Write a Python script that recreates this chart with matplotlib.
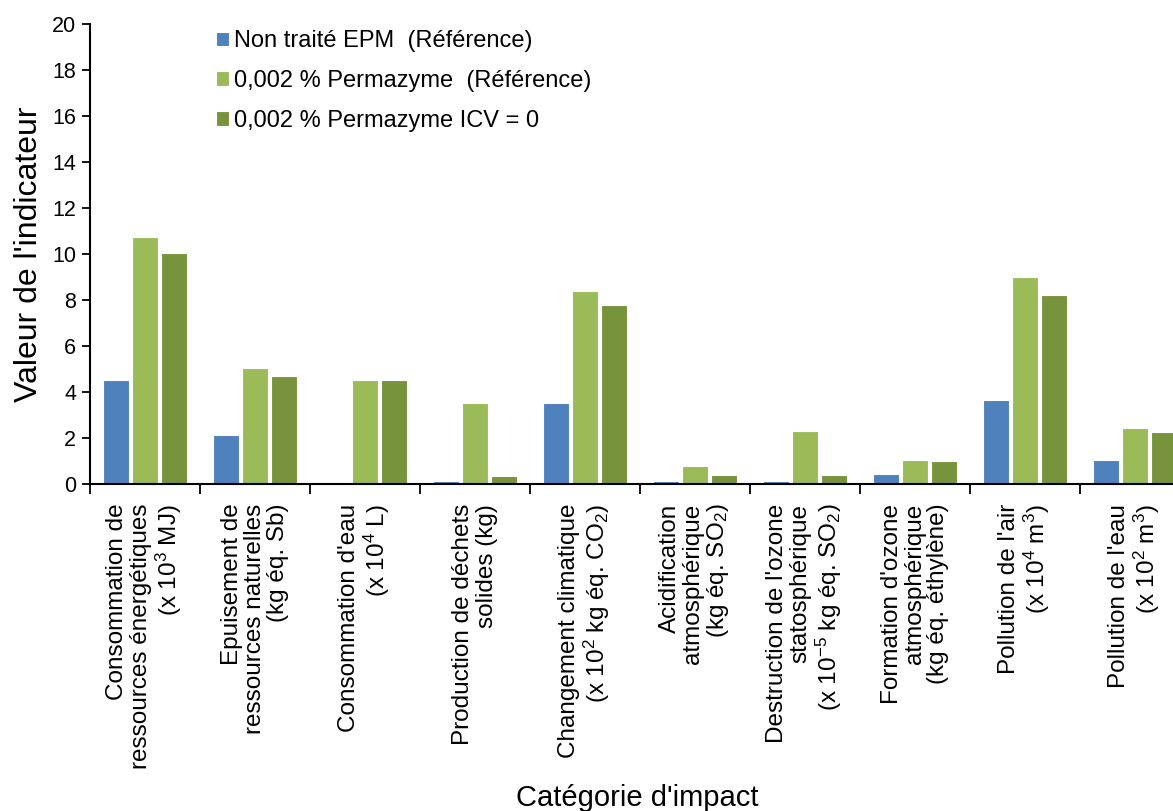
import numpy as np
import matplotlib
matplotlib.use("Agg")
import matplotlib.pyplot as plt

plt.rcParams['font.family'] = ['Liberation Sans', 'DejaVu Sans']
plt.rcParams['mathtext.fontset'] = 'custom'
plt.rcParams['mathtext.rm'] = 'Liberation Sans'
plt.rcParams['mathtext.it'] = 'Liberation Sans:italic'

categories = [
    "Consommation de\nressources énergétiques\n(x 10$^3$ MJ)",
    "Epuisement de\nressources naturelles\n(kg éq. Sb)",
    "Consommation d'eau\n(x 10$^4$ L)",
    "Production de déchets\nsolides (kg)",
    "Changement climatique\n(x 10$^2$ kg éq. CO$_2$)",
    "Acidification\natmosphérique\n(kg éq. SO$_2$)",
    "Destruction de l'ozone\nstatosphérique\n(x 10$^{-5}$ kg éq. SO$_2$)",
    "Formation d'ozone\natmosphérique\n(kg éq. éthylène)",
    "Pollution de l'air\n(x 10$^4$ m$^3$)",
    "Pollution de l'eau\n(x 10$^2$ m$^3$)",
]
series_names = [
    "Non traité EPM  (Référence)",
    "0,002 % Permazyme  (Référence)",
    "0,002 % Permazyme ICV = 0",
]
non_traite = [4.55, 2.12, 0.03, 0.12, 3.51, 0.12, 0.12, 0.46, 3.68, 1.07]
permazyme_ref = [10.74, 5.07, 4.55, 3.51, 8.39, 0.80, 2.30, 1.07, 9.01, 2.45]
permazyme_icv0 = [10.04, 4.72, 4.55, 0.36, 7.78, 0.38, 0.38, 1.00, 8.22, 2.29]
colors = ["#4F81BD", "#9BBB59", "#77933C"]
y_ticks = list(range(0, 21, 2))

fig = plt.figure(figsize=(11.73, 8.11), dpi=100)
ax = fig.add_axes([0.0767, 0.403, 0.9378, 0.567])

x = np.arange(len(categories))
pitch = 0.266
width = 0.236
for i, (vals, name) in enumerate(zip([non_traite, permazyme_ref, permazyme_icv0], series_names)):
    ax.bar(x + (i - 1) * pitch, vals, width, color=colors[i], edgecolor='white',
           linewidth=0.8, label=name)

ax.set_xlim(-0.5, len(categories) - 0.5)
ax.set_ylim(0, 20)
ax.set_yticks(y_ticks)
ax.tick_params(axis='y', labelsize=15.5, length=6, width=1.3, direction='out', pad=4)

# boundary ticks between categories
ax.set_xticks(np.arange(len(categories) + 1) - 0.5)
ax.set_xticklabels([])
ax.tick_params(axis='x', length=7, width=1.3, direction='out')
for xi, lab in zip(x, categories):
    ax.text(xi, -0.85, lab, rotation=90, ha='center', va='top', multialignment='right',
            fontsize=17.5, transform=ax.transData, linespacing=1.08)

for s in ['top', 'right']:
    ax.spines[s].set_visible(False)
ax.spines['left'].set_linewidth(1.5)
ax.spines['bottom'].set_linewidth(1.5)

ax.set_ylabel("Valeur de l'indicateur", fontsize=23, labelpad=6)
fig.text(637 / 1173, 5 / 811, "Catégorie d'impact", ha='center', va='baseline', fontsize=21)

fig.legend(loc='upper left', bbox_to_anchor=(216 / 1173, 1 - 30 / 811), frameon=False,
           fontsize=17, handlelength=0.55, handleheight=0.55, handletextpad=0.2,
           labelspacing=0.76, borderpad=0, borderaxespad=0)

fig.savefig("out.png", dpi=100)
